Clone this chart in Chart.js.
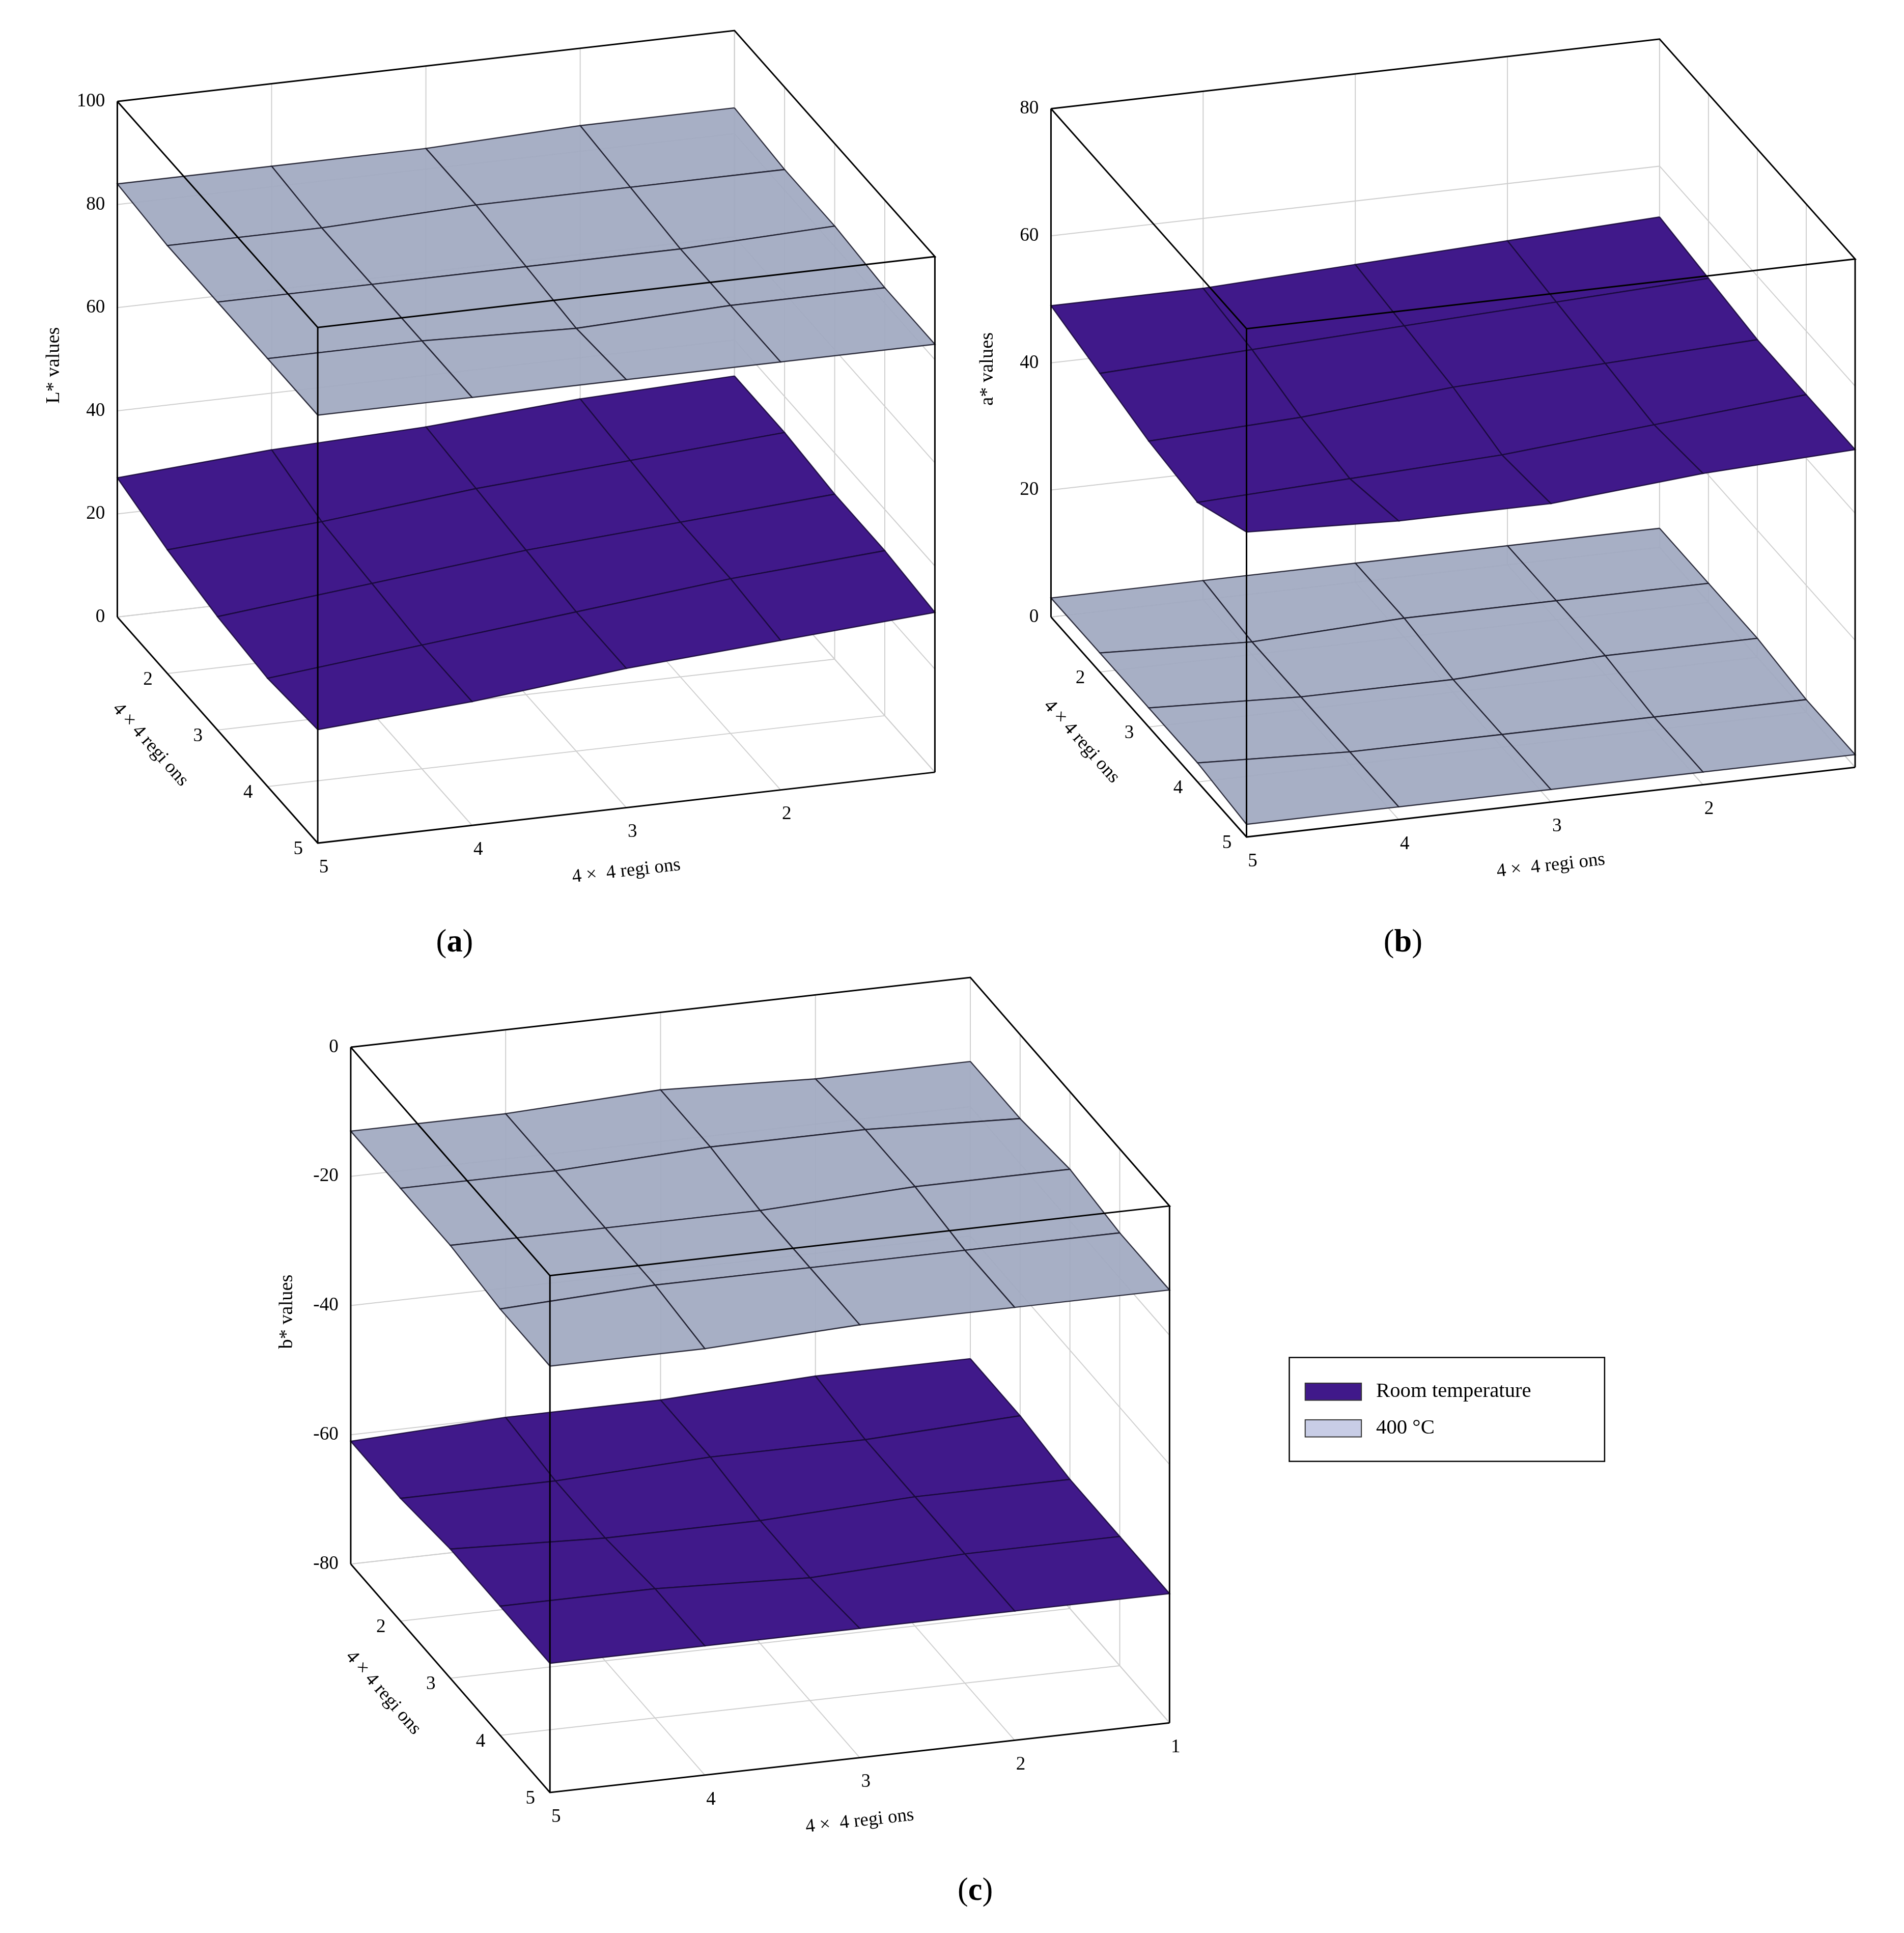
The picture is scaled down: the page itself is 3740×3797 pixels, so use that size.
<!DOCTYPE html>
<html><head><meta charset="utf-8">
<script src="https://cdn.jsdelivr.net/npm/chart.js@4.4.0/dist/chart.umd.min.js"></script>
<style>html,body{margin:0;padding:0;background:#fff}#c{display:block}</style>
</head><body>
<canvas id="c" width="3740" height="3797"></canvas>
<script>
const regions = [1,2,3,4,5];
// rows: v (y-axis region 1..5), cols: u (x-axis region 1..5)
const L_room = [[33,32,30,29,27],[33,31,29,26,24],[32,30,28,25,22],[32,30,27,24,21],[31,29,27,24,22]];
const L_400  = [[85,85,84,84,84],[84,84,84,83,83],[84,83,83,83,83],[83,83,82,83,83],[83,83,83,83,83]];
const a_room = [[52,51,50,49,49],[51,50,49,48,47],[50,49,48,46,45],[50,48,46,45,44],[50,49,47,47,48]];
const a_400  = [[3,3,3,3,3],[3,3,3,2,3],[3,3,2,2,3],[2,2,2,2,3],[2,2,2,2,2]];
const b_room = [[-59,-59,-60,-60,-61],[-59,-60,-60,-61,-61],[-60,-60,-61,-61,-60],[-60,-60,-61,-60,-60],[-60,-60,-60,-60,-60]];
const b_400  = [[-13,-13,-12,-13,-13],[-13,-12,-12,-13,-13],[-12,-12,-13,-13,-13],[-13,-13,-13,-13,-14],[-13,-13,-13,-14,-14]];
const L_ticks = [0,20,40,60,80,100];
const a_ticks = [0,20,40,60,80];
const b_ticks = [-80,-60,-40,-20,0];

const K = 3740/1558;
const panels = [
  {F:[260,690],R:[765,632],L:[96,505],H:422,zmin:0,zmax:100,ticks:L_ticks,lower:L_room,upper:L_400,lowerIsRoom:true,title:'L* values',uLabels:[2,3,4,5],cap:'a',capPos:[372,772]},
  {F:[1020,685],R:[1518,628],L:[860,505],H:416,zmin:0,zmax:80,ticks:a_ticks,lower:a_400,upper:a_room,lowerIsRoom:false,title:'a* values',uLabels:[2,3,4,5],cap:'b',capPos:[1148,772]},
  {F:[450,1467],R:[957,1410],L:[287,1280],H:423,zmin:-80,zmax:0,ticks:b_ticks,lower:b_room,upper:b_400,lowerIsRoom:true,title:'b* values',uLabels:[1,2,3,4,5],cap:'c',capPos:[798,1548]}
];
const ROOM='#40198a', HOT='rgba(160,169,193,0.93)';
function P(p,u,v,z){const f=(5-u)/4,g=(5-v)/4;
  return {x:p.F[0]+f*(p.R[0]-p.F[0])+g*(p.L[0]-p.F[0]), y:p.F[1]+f*(p.R[1]-p.F[1])+g*(p.L[1]-p.F[1])-(z-p.zmin)/(p.zmax-p.zmin)*p.H};}
const datasets=[];let seq=0;
function add(pts,col,w,fillCol){datasets.push({data:pts,showLine:true,pointRadius:0,borderColor:col,borderWidth:w,fill:fillCol?'shape':false,backgroundColor:fillCol||'transparent',order:-(seq++),tension:0});}
panels.forEach(p=>{
  const zt=p.zmin,zb=p.zmin,ztop=p.zmax;
  // back walls grid
  p.ticks.forEach(z=>{add([P(p,5,1,z),P(p,1,1,z),P(p,1,5,z)],'#cfcfcf',2);});
  regions.forEach(r=>{add([P(p,r,1,p.zmin),P(p,r,1,ztop)],'#cfcfcf',2);add([P(p,1,r,p.zmin),P(p,1,r,ztop)],'#cfcfcf',2);});
  // floor grid
  regions.forEach(r=>{add([P(p,r,1,zb),P(p,r,5,zb)],'#cfcfcf',2);add([P(p,1,r,zb),P(p,5,r,zb)],'#cfcfcf',2);});
  // surfaces
  [[p.lower,p.lowerIsRoom],[p.upper,!p.lowerIsRoom]].forEach(([Z,room])=>{
    const cells=[];
    for(let v=1;v<5;v++)for(let u=1;u<5;u++)cells.push([u,v]);
    cells.sort((A,B)=>(A[0]+A[1])-(B[0]+B[1]));
    cells.forEach(([u,v])=>{
      const pts=[P(p,u,v,Z[v-1][u-1]),P(p,u+1,v,Z[v-1][u]),P(p,u+1,v+1,Z[v][u]),P(p,u,v+1,Z[v][u-1])];
      pts.push(pts[0]);
      add(pts,room?'rgba(25,10,60,0.9)':'rgba(30,30,45,0.9)',2.4,room?ROOM:HOT);
    });
  });
  // box edges
  add([P(p,5,1,zb),P(p,5,5,zb),P(p,1,5,zb)],'#000',3);
  add([P(p,5,1,zb),P(p,5,1,ztop)],'#000',3);
  add([P(p,5,5,zb),P(p,5,5,ztop)],'#000',3);
  add([P(p,1,5,zb),P(p,1,5,ztop)],'#000',3);
  add([P(p,5,1,ztop),P(p,1,1,ztop),P(p,1,5,ztop),P(p,5,5,ztop),P(p,5,1,ztop)],'#000',3);
});

const textPlugin={id:'txt',afterDraw(ch){
  const c=ch.ctx,sx=ch.scales.x,sy=ch.scales.y;
  const X=v=>sx.getPixelForValue(v),Y=v=>sy.getPixelForValue(v);
  c.save();c.fillStyle='#000';
  const fs=15.5*K;
  panels.forEach(p=>{
    c.font=fs+'px "Liberation Serif","DejaVu Serif",serif';
    c.textAlign='right';c.textBaseline='middle';
    p.ticks.forEach(z=>{const q=P(p,5,1,z);c.fillText(String(z),X(q.x-10),Y(q.y));});
    c.textAlign='center';c.textBaseline='middle';
    p.uLabels.forEach(u=>{const q=P(p,u,5,p.zmin);c.fillText(String(u),X(q.x+5),Y(q.y+20));});
    [2,3,4,5].forEach(v=>{const q=P(p,5,v,p.zmin);c.fillText(String(v),X(q.x-16),Y(q.y+5));});
    // z title
    const lx=p.L[0]-52, ly=p.L[1]-p.H/2+5;
    c.save();c.translate(X(lx),Y(ly));c.rotate(-Math.PI/2);
    c.font=(16*K)+'px "Liberation Serif","DejaVu Serif",serif';c.fillText(p.title,0,0);c.restore();
    // u title
    const um={x:(p.F[0]+p.R[0])/2,y:(p.F[1]+p.R[1])/2+52};
    const au=Math.atan2((p.R[1]-p.F[1]),(p.R[0]-p.F[0]));
    c.save();c.translate(X(um.x),Y(um.y));c.rotate(au);c.fillText('4 ×  4 regi ons',0,0);c.restore();
    const vm={x:(p.F[0]+p.L[0])/2-55,y:(p.F[1]+p.L[1])/2+12};
    const av=Math.atan2((p.F[1]-p.L[1]),(p.F[0]-p.L[0]));
    c.save();c.translate(X(vm.x),Y(vm.y));c.rotate(av);c.fillText('4 × 4 regi ons',0,0);c.restore();
    // caption
    c.font=(26*K)+'px "Liberation Serif","DejaVu Serif",serif';
    const t1='(',t2=p.cap,t3=')';
    c.textAlign='left';
    const bf='bold '+(26*K)+'px "Liberation Serif","DejaVu Serif",serif';
    const nf=(26*K)+'px "Liberation Serif","DejaVu Serif",serif';
    c.font=nf;const w1=c.measureText(t1).width,w3=c.measureText(t3).width;c.font=bf;const w2=c.measureText(t2).width;
    let x0=X(p.capPos[0])-(w1+w2+w3)/2,yc=Y(p.capPos[1]);
    c.font=nf;c.fillText(t1,x0,yc);c.font=bf;c.fillText(t2,x0+w1,yc);c.font=nf;c.fillText(t3,x0+w1+w2,yc);
  });
  // legend
  c.lineWidth=2.5;c.strokeStyle='#000';
  c.strokeRect(X(1055),Y(1111),X(1313)-X(1055),Y(1196)-Y(1111));
  const items=[['Room temperature',ROOM],['400 °C','#c8cde6']];
  c.font=(17*K)+'px "Liberation Serif","DejaVu Serif",serif';c.textAlign='left';c.textBaseline='middle';
  items.forEach((it,i)=>{const yy=1139+i*30;c.fillStyle=it[1];c.fillRect(X(1068),Y(yy-7),X(1114)-X(1068),Y(yy+7)-Y(yy-7));
    c.strokeStyle='#333';c.lineWidth=2;c.strokeRect(X(1068),Y(yy-7),X(1114)-X(1068),Y(yy+7)-Y(yy-7));
    c.fillStyle='#000';c.fillText(it[0],X(1126),Y(yy));});
  c.restore();
}};

new Chart(document.getElementById('c'),{type:'scatter',data:{datasets},
  options:{responsive:false,animation:false,devicePixelRatio:1,layout:{padding:0},
    plugins:{legend:{display:false},tooltip:{enabled:false}},
    scales:{x:{type:'linear',min:0,max:1558,display:false},y:{type:'linear',min:0,max:1582,reverse:true,display:false}}},
  plugins:[textPlugin]});
</script></body></html>
